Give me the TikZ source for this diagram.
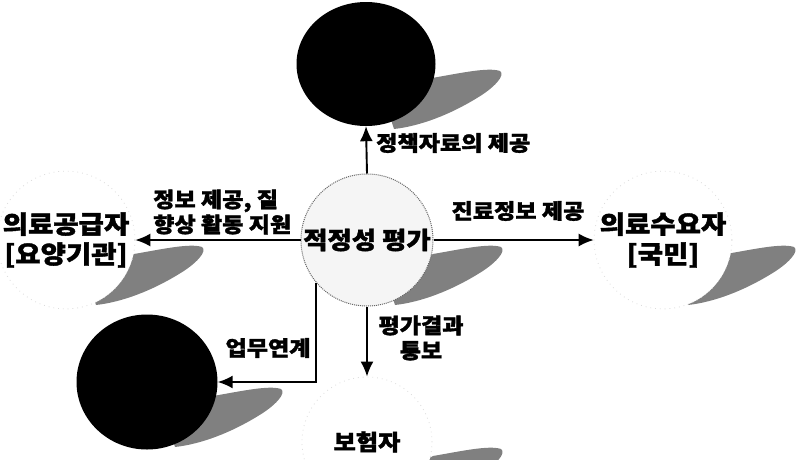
\documentclass[tikz,border=0pt]{standalone}
\usepackage{fontspec}
\setmainfont{Noto Sans CJK KR}[FakeStretch=1.1,BoldFeatures={FakeBold=1.6}]
\usetikzlibrary{arrows.meta,shapes.geometric}
\newcommand\leafshadow[1]{\fill[shadowfill,shift={(#1)}] (20,40) -- (66,14) .. controls (95,9) and (122,3) .. (134,7) .. controls (140,11) and (128,24) .. (111,34) .. controls (85,50) and (55,62) .. (28,65) -- cycle;}
\begin{document}
\begin{tikzpicture}[x=1pt,y=-1pt,
  conn/.style={line width=1.9pt,-{Latex[length=15pt,width=13pt]}},
  lbl/.style={font=\bfseries\fontsize{21}{25}\selectfont, inner sep=0pt},
  big/.style={font=\bfseries\fontsize{25}{30}\selectfont},
  ghost/.style={circle,minimum size=130pt,inner sep=0pt,fill=white,draw=black!14,loosely dotted,line width=0.8pt,align=center,big},
  evalcircle/.style={circle,minimum size=132pt,inner sep=0pt,fill=black!4,draw=black!60,densely dotted,line width=1pt,font=\bfseries\fontsize{24}{30}\selectfont},
  blackball/.style={ellipse,inner sep=0pt,fill=black},
  shadowfill/.style={fill=black!50}]
\useasboundingbox (0,0) rectangle (798,459);
% shadows
\leafshadow{366,64}
\leafshadow{367,240}
\leafshadow{68,240}
\leafshadow{660,240}
\leafshadow{147,382}
\leafshadow{367,442}
% nodes
\node[blackball,minimum width=139pt,minimum height=124pt] (policy) at (366,64) {};
\node[blackball,minimum width=141pt,minimum height=135pt] (partner) at (147,382) {};
\node[evalcircle] (eval) at (367,240) {적정성 평가};
\node[ghost] (supplier) at (66,240) {의료공급자\\{[}요양기관{]}};
\node[ghost] (consumer) at (663,240) {의료수요자\\{[}국민{]}};
\node[ghost,font=\bfseries\fontsize{22}{30}\selectfont] (insurer) at (367,442) {보험자};
% connectors
\draw[conn] (eval.north) -- (policy.south);
\draw[conn] (eval.west) -- (supplier.east);
\draw[conn] (eval.east) -- (consumer.west);
\draw[conn] (eval.south) -- (insurer.north);
\draw[conn] (eval.220) |- (partner.east);
% labels
\node[lbl,anchor=west] (l1) at (376,143) {정책자료의 제공};
\node[lbl,align=left,anchor=west] (l2) at (153,212) {정보 제공, 질\\향상 활동 지원};
\node[lbl] (l3) at (518,211) {진료정보 제공};
\node[lbl,align=center] (l4) at (421,338) {평가결과\\통보};
\node[lbl] (l5) at (268,348) {업무연계};
\end{tikzpicture}
\end{document}
